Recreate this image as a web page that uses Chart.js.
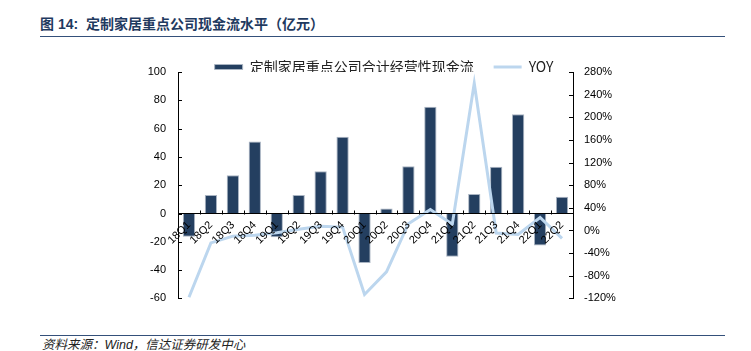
<!DOCTYPE html>
<html>
<head>
<meta charset="utf-8">
<script src="https://cdn.jsdelivr.net/npm/chart.js@4.4.0/dist/chart.umd.min.js"></script>
<style>
  body { margin: 0; width: 751px; height: 351px; background: #fff; position: relative; overflow: hidden; }
  #title { position: absolute; left: 40px; top: 13px; line-height: 18px; white-space: nowrap;
           font: bold 14px "Liberation Sans", "Noto Sans CJK SC", sans-serif; color: #1f3a60; }
  #rule1 { position: absolute; left: 40px; top: 36px; width: 685px; border-top: 1.5px solid #34507a; }
  #rule2 { position: absolute; left: 40px; top: 335px; width: 685px; border-top: 1px solid #34507a; }
  #src { position: absolute; left: 42px; top: 334px; line-height: 16px; white-space: nowrap;
         font: italic 12.5px "Liberation Sans", "Noto Sans CJK SC", sans-serif; color: #222; }
  #wrap { position: absolute; left: 0; top: 40px; width: 768px; height: 277px; }
</style>
</head>
<body>
<div id="title">图 14:&nbsp;&nbsp;定制家居重点公司现金流水平（亿元）</div>
<div id="rule1"></div>
<div id="wrap"><canvas id="chart" width="768" height="277"></canvas></div>
<div id="rule2"></div>
<div id="src">资料来源：Wind，信达证券研发中心</div>
<script>
// data
const quarters = ['18Q1','18Q2','18Q3','18Q4','19Q1','19Q2','19Q3','19Q4','20Q1','20Q2','20Q3','20Q4','21Q1','21Q2','21Q3','21Q4','22Q1','22Q2'];
const cashFlow = [-16.5, 13, 27, 50.8, -16.7, 13, 29.9, 54.3, -34.9, 3.5, 33.4, 75.4, -30.6, 13.7, 33, 70.2, -22.6, 11.8];
const yoyPct   = [-118, -22, -10, -8.5, -4, 2, 7.5, 6, -113, -73, 12, 37, 11, 260, -4.5, -7, 23, -14];
const leftRange  = [-60, 100, 20];   // min, max, step (亿元)
const rightRange = [-120, 280, 40];  // min, max, step (%)
const barName  = '定制家居重点公司合计经营性现金流';
const lineName = 'YOY';

Chart.defaults.font.family = '"Liberation Sans", Arial, sans-serif';
Chart.defaults.font.size = 11;
Chart.defaults.color = '#000';

// legend sits over the plot top, so keep it from pushing the plot down
const legendHeight = {
  id: 'legendHeight',
  beforeInit(chart) {
    const fit = chart.legend.fit;
    chart.legend.fit = function () { fit.call(this); this.height = 32; };
  }
};

// tick marks point inward in the reference
const innerTicks = {
  id: 'innerTicks',
  afterDraw(chart) {
    const { ctx, chartArea: a, scales: { x, y, y1 } } = chart;
    ctx.save();
    ctx.strokeStyle = '#000';
    ctx.lineWidth = 1;
    ctx.beginPath();
    y.ticks.forEach((t, i) => {
      const py = Math.round(y.getPixelForTick(i)) + 0.5;
      ctx.moveTo(a.left, py); ctx.lineTo(a.left + 4, py);
    });
    y1.ticks.forEach((t, i) => {
      const py = Math.round(y1.getPixelForTick(i)) + 0.5;
      ctx.moveTo(a.right - 4, py); ctx.lineTo(a.right, py);
    });
    const zy = Math.round(y.getPixelForValue(0)) + 0.5;
    for (let i = 1; i < quarters.length; i++) {
      const px = Math.round(x.getPixelForValue(i - 0.5)) + 0.5;
      ctx.moveTo(px, zy); ctx.lineTo(px, zy - 4);
    }
    ctx.stroke();
    ctx.restore();
  }
};

new Chart(document.getElementById('chart'), {
  type: 'bar',
  data: {
    labels: quarters,
    datasets: [
      {
        type: 'bar',
        label: barName,
        data: cashFlow,
        yAxisID: 'y',
        backgroundColor: '#243f60',
        borderColor: '#a9b4c2',
        borderWidth: 1,
        barPercentage: 0.56,
        categoryPercentage: 1,
        pointStyle: 'rect',
        order: 2
      },
      {
        type: 'line',
        label: lineName,
        data: yoyPct,
        yAxisID: 'y1',
        borderColor: '#bcd6ee',
        backgroundColor: '#bcd6ee',
        borderWidth: 3,
        pointRadius: 0,
        tension: 0,
        pointStyle: 'line',
        order: 1
      }
    ]
  },
  options: {
    responsive: false,
    animation: false,
    devicePixelRatio: 1,
    layout: { padding: { left: 0, right: 0, top: 0, bottom: 14 } },
    plugins: {
      tooltip: { enabled: false },
      legend: {
        position: 'top',
        labels: {
          usePointStyle: true,
          pointStyleWidth: 28,
          boxHeight: 5,
          padding: 20,
          color: '#222',
          font: { family: '"Noto Sans CJK SC", sans-serif', size: 14 },
          sort: (a, b) => a.datasetIndex - b.datasetIndex
        }
      }
    },
    scales: {
      x: {
        position: { y: 0 },
        offset: true,
        afterFit(scale) { scale.height = 0; },
        grid: { display: true, drawOnChartArea: false, drawTicks: false },
        border: { display: true, color: '#000', width: 1, z: 1 },
        ticks: { z: 1, maxRotation: 45, minRotation: 45, autoSkip: false, padding: 5, font: { size: 11 } }
      },
      y: {
        position: 'left',
        min: leftRange[0], max: leftRange[1],
        afterFit(scale) { scale.width = 178; },
        grid: { display: true, drawOnChartArea: false, drawTicks: false },
        border: { display: true, color: '#000', width: 1 },
        ticks: { stepSize: leftRange[2], padding: 12 }
      },
      y1: {
        position: 'right',
        min: rightRange[0], max: rightRange[1],
        afterFit(scale) { scale.width = 195; },
        grid: { display: true, drawOnChartArea: false, drawTicks: false },
        border: { display: true, color: '#000', width: 1 },
        ticks: { stepSize: rightRange[2], padding: 11, callback: v => v + '%' }
      }
    }
  },
  plugins: [legendHeight, innerTicks]
});
</script>
</body>
</html>
